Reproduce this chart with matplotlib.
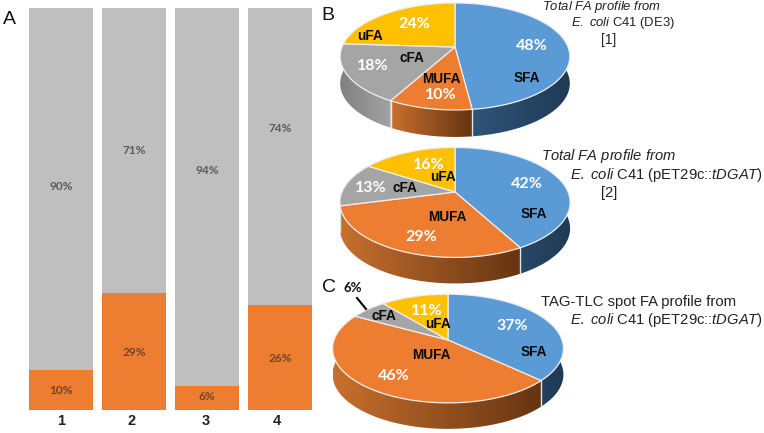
import numpy as np
import matplotlib
matplotlib.use('Agg')
import matplotlib.pyplot as plt
from matplotlib.patches import Polygon

plt.rcParams['font.family'] = 'Liberation Sans'
plt.rcParams['mathtext.fontset'] = 'custom'
plt.rcParams['mathtext.rm'] = 'Liberation Sans'
plt.rcParams['mathtext.it'] = 'Liberation Sans:italic'

# Panel A
bar_names = ['1', '2', '3', '4']
orange_vals = [10, 29, 6, 26]
gray_vals = [90, 71, 94, 74]

# Panels B, C
pie_names = ['SFA', 'MUFA', 'cFA', 'uFA']
pie_b1 = [48, 10, 18, 24]
pie_b2 = [42, 29, 13, 16]
pie_c = [37, 46, 6, 11]

top_colors = ['#5b9bd5', '#ed7d31', '#a5a5a5', '#ffc000']
# side gradient, left end and right end of each wedge
side_colors = [('#315a80', '#1f3a55'), ('#c8702e', '#653412'),
               ('#808080', '#a3a3a3'), ('#c09000', '#8a6800')]

W, H = 764, 433
fig = plt.figure(figsize=(W / 100, H / 100), dpi=100)


def px_axes(left, top, right, bottom):
    return fig.add_axes([left / W, 1 - bottom / H, (right - left) / W, (bottom - top) / H])


# stacked bars
ax = px_axes(24.5, 8, 316.5, 410)
x = np.arange(4)
ax.bar(x, orange_vals, width=64 / 73, color='#ed7d31')
ax.bar(x, gray_vals, width=64 / 73, bottom=orange_vals, color='#bfbfbf')
ax.set_xlim(-0.5, 3.5)
ax.set_ylim(0, 100)
ax.axis('off')

# everything else in pixel coordinates
ov = fig.add_axes([0, 0, 1, 1])
ov.set_xlim(0, W)
ov.set_ylim(H, 0)
ov.axis('off')
ov.patch.set_alpha(0)


def project(frac, cx, cy, rx, ry, k):
    # circle seen in perspective, frac runs clockwise from the top
    t = 2 * np.pi * np.asarray(frac)
    u, v = np.sin(t), np.cos(t)
    w = 1 + k * v
    return cx + rx * u / w, cy - ry * v / w


def draw_pie(vals, cx, cy, rx, ry, k, depth):
    edges = np.cumsum([0] + vals) / sum(vals)
    # sides first, the top covers the back part
    for i in range(len(vals)):
        f = np.linspace(edges[i], edges[i + 1], 80)
        xs, ys = project(f, cx, cy, rx, ry, k)
        pts = np.r_[np.c_[xs, ys], np.c_[xs, ys + depth][::-1]]
        poly = Polygon(pts, closed=True, fc='none', ec='none')
        ov.add_patch(poly)
        c0 = np.array(matplotlib.colors.to_rgb(side_colors[i][0]))
        c1 = np.array(matplotlib.colors.to_rgb(side_colors[i][1]))
        g = np.linspace(0, 1, 256)[None, :, None]
        img = c0 + (c1 - c0) * g
        im = ov.imshow(img, extent=(xs.min(), xs.max(), cy + 120, cy - 120),
                       aspect='auto', interpolation='bilinear', zorder=1)
        im.set_clip_path(poly)
    for e in edges[:-1]:
        t = 2 * np.pi * e
        if np.cos(t) < -k:
            px, py = project(e, cx, cy, rx, ry, k)
            ov.plot([px, px], [py, py + depth], color='#e6e6e6', lw=1, zorder=2)
    for i in range(len(vals)):
        f = np.linspace(edges[i], edges[i + 1], 120)
        xs, ys = project(f, cx, cy, rx, ry, k)
        pts = np.r_[[[cx, cy]], np.c_[xs, ys]]
        ov.add_patch(Polygon(pts, closed=True, fc=top_colors[i], ec='#eeeeee', lw=0.9, zorder=3))


draw_pie(pie_b1, 455, 47, 113, 51.8, 0.177, 27)
draw_pie(pie_b2, 455, 192, 113, 53, 0.19, 26)
draw_pie(pie_c, 448, 340, 114, 53, 0.157, 26)
ov.set_xlim(0, W)
ov.set_ylim(H, 0)

pct_font = dict(family='Lato', fontweight='bold', ha='center', va='center', zorder=5)
lab_font = dict(fontweight='bold', ha='center', va='center', color='#0a0a0a', zorder=5, fontsize=9.8)

# bar value labels
gray_y = [186, 150, 171, 128]
orange_y = [391, 353, 397, 359]
tick_x = [61, 132, 206, 277]
for i in range(4):
    xc = 61 + 73 * i
    ov.text(xc, gray_y[i], '%d%%' % gray_vals[i], color='#595959', fontsize=8.6, **pct_font)
    ov.text(xc, orange_y[i], '%d%%' % orange_vals[i], color='#6f4428', fontsize=8.6, **pct_font)
    ov.text(tick_x[i], 421, bar_names[i], fontweight='bold', fontsize=10.5, ha='center', va='center', color='#222222')

# pie labels
b1_pct = [(532, 46), (441, 95), (373, 66), (414, 24)]
b1_lab = [(527, 78), (441, 79), (412, 58), (370, 36)]
b2_pct = [(527, 184), (421, 237), (371, 188), (429, 165)]
b2_lab = [(534, 214), (447, 217), (405, 188), (443, 177)]
c_pct = [(512, 326), (394, 376), (353, 288), (427, 311)]
c_lab = [(534, 352), (431, 355), (384, 316), (438, 324)]

for vals, p_pos, l_pos in [(pie_b1, b1_pct, b1_lab), (pie_b2, b2_pct, b2_lab), (pie_c, c_pct, c_lab)]:
    for i in range(4):
        # the 6% slice is too small, its label sits outside in black
        col = '#111111' if vals[i] == 6 else 'white'
        size = 9.5 if vals[i] == 6 else 11.5
        ov.text(p_pos[i][0], p_pos[i][1], '%d%%' % vals[i], color=col, fontsize=size, **pct_font)
        ov.text(l_pos[i][0], l_pos[i][1], pie_names[i], **lab_font)

ov.plot([357, 366], [298, 309], color='black', lw=1.5, zorder=5)

# captions
cap = dict(color='#222222', va='center', ha='left')
ov.text(542, 7, r'$\mathit{Total\ FA\ profile\ from}$', fontsize=9.4, **cap)
ov.text(571, 23, r'$\mathit{E.\ coli}$ C41 (DE3)', fontsize=9.4, **cap)
ov.text(601, 40, '[1]', fontsize=10, **cap)
ov.text(541, 156, r'$\mathit{Total\ FA\ profile\ from}$', fontsize=10.6, **cap)
ov.text(570, 175, r'$\mathit{E.\ coli}$ C41 (pET29c::$\mathit{tDGAT}$)', fontsize=10.6, **cap)
ov.text(601, 193, '[2]', fontsize=10.6, **cap)
ov.text(541, 302, 'TAG-TLC spot FA profile from', fontsize=10.7, **cap)
ov.text(570, 320, r'$\mathit{E.\ coli}$ C41 (pET29c::$\mathit{tDGAT}$)', fontsize=10.6, **cap)

# panel letters
for s, px, py in [('A', 9, 19), ('B', 328, 16), ('C', 329, 287)]:
    ov.text(px, py, s, fontsize=14, ha='center', va='center', color='#111111')

fig.savefig('out.png', dpi=100)
